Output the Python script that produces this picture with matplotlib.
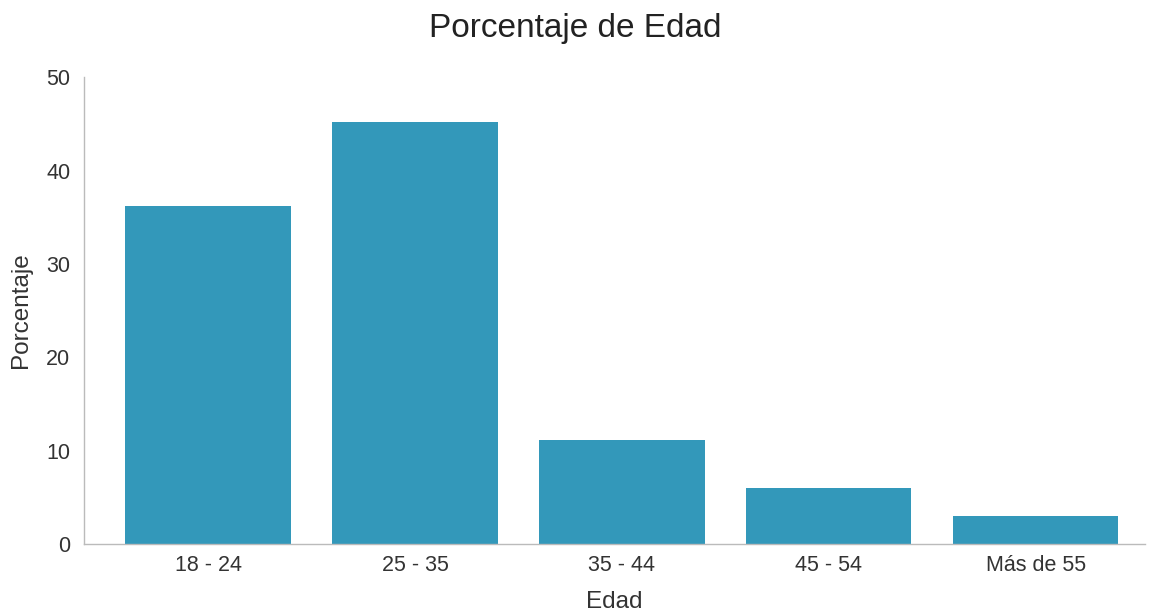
import matplotlib
matplotlib.use('Agg')
import matplotlib.pyplot as plt

# datos
categorias = ['18 - 24', '25 - 35', '35 - 44', '45 - 54', 'Más de 55']
porcentajes = [36.2, 45.2, 11.1, 6.0, 3.0]
y_ticks = [0, 10, 20, 30, 40, 50]

plt.rcParams['font.family'] = ['Liberation Sans', 'DejaVu Sans']

fig = plt.figure(figsize=(11.51, 6.12), dpi=100)
ax = fig.add_axes([0.073, 0.111, 0.922, 0.763])

x = range(len(categorias))
ax.bar(x, porcentajes, width=0.8, color='#3398ba', zorder=2)

ax.set_xlim(-0.6, len(categorias) - 0.47)
ax.set_ylim(0, 50)
ax.set_xticks(list(x))
ax.set_xticklabels(categorias)
ax.set_yticks(y_ticks)
ax.tick_params(axis='both', length=0, labelsize=15.5, colors='#333333')
ax.tick_params(axis='x', pad=8)
ax.tick_params(axis='y', pad=10)

for s in ['top', 'right']:
    ax.spines[s].set_visible(False)
for s in ['left', 'bottom']:
    ax.spines[s].set_color('#bbbbbb')
    ax.spines[s].set_linewidth(1)

ax.set_xlabel('Edad', fontsize=17.5, color='#333333', labelpad=11)
ax.set_ylabel('Porcentaje', fontsize=17.5, color='#333333', labelpad=10)
fig.suptitle('Porcentaje de Edad', fontsize=24, color='#222222', y=0.978)

fig.savefig('out.png', dpi=100)
